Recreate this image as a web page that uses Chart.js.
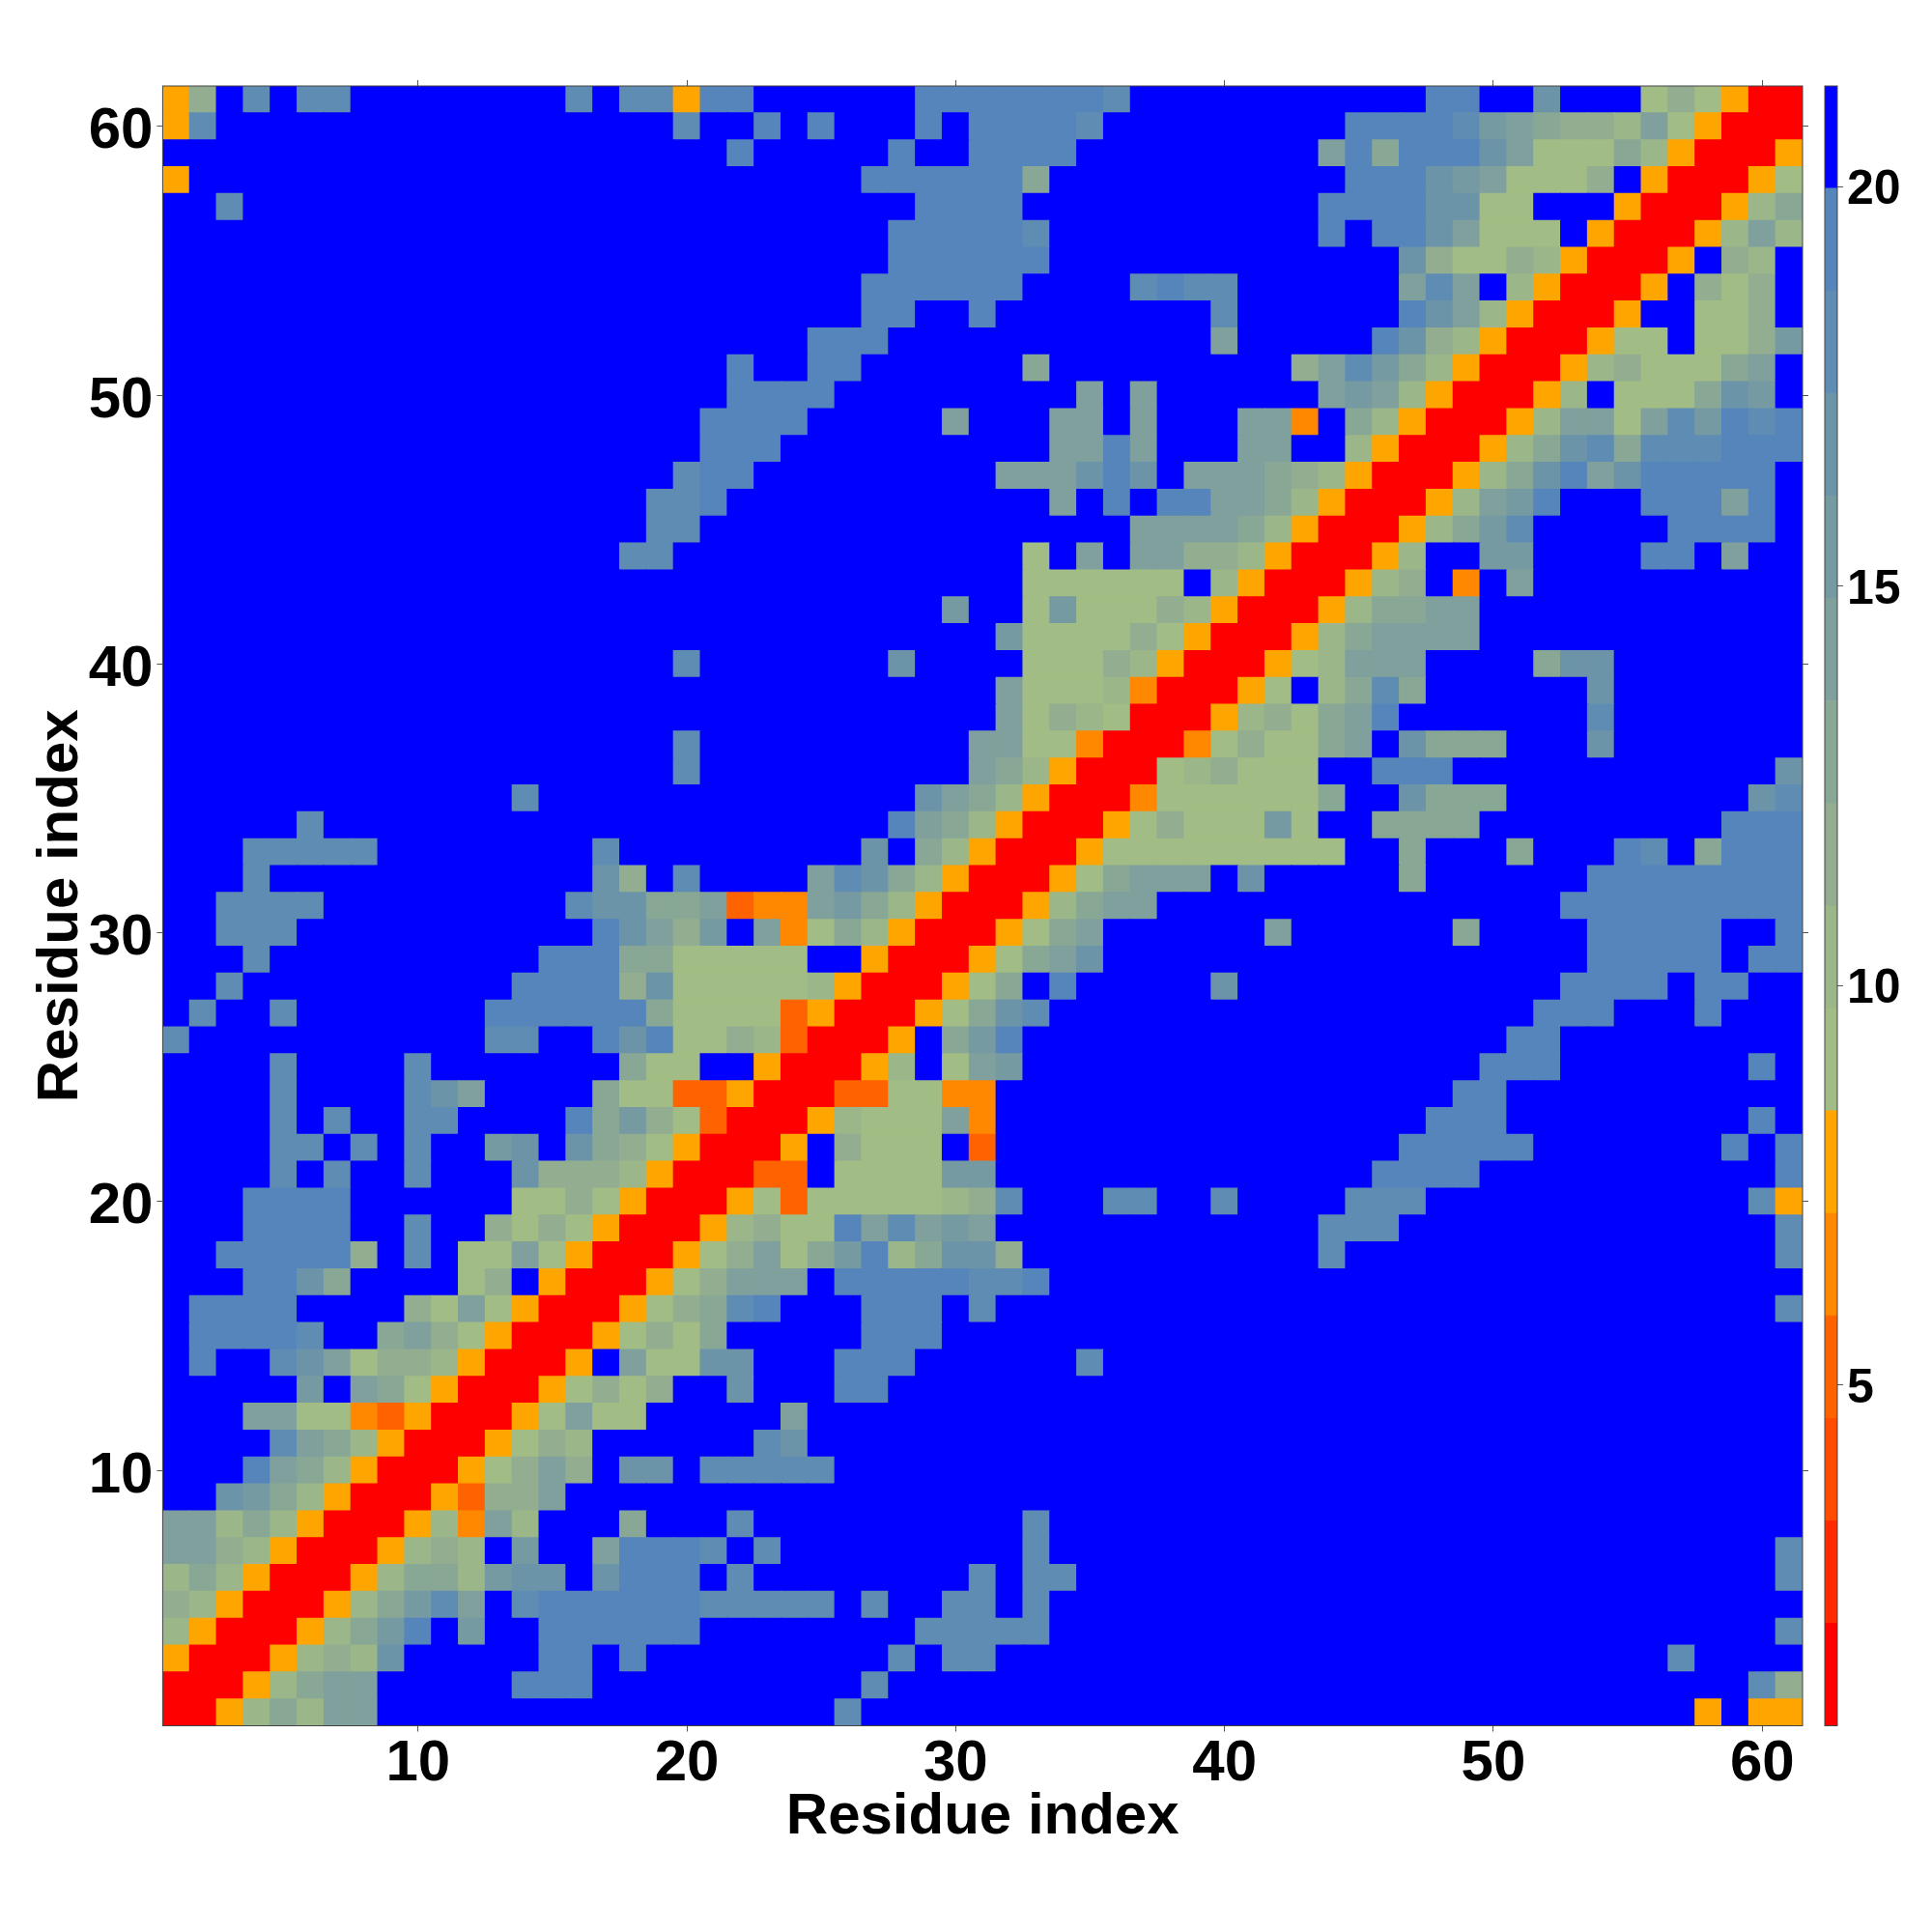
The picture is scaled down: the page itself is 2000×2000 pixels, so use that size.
<!DOCTYPE html>
<html>
<head>
<meta charset="utf-8">
<title>Residue distance map</title>
<script src="https://cdn.jsdelivr.net/npm/chart.js@4/dist/chart.umd.js"></script>
<style>
body { margin: 0; background: #fff; }
canvas { position: absolute; top: 0; }
#map { left: 0; }
#bar { left: 1880px; }
</style>
</head>
<body>
<canvas id="map" width="1880" height="2000"></canvas>
<canvas id="bar" width="120" height="2000"></canvas>
<script>
// one character per cell, hex index into bandColors. first row is residue 61, columns run 1..61
var residueRows = [
'58fdfddffffffffdfdd5 eeffffffeeeeeeedffff fffffffeeffcfff686500',
'5dfffffffffffffffffd ffefefffefeeeedfffff ffffeeeedba9887a65000',
'ffffffffffffffffffff fefffffeffeeeeffffff fffae9eeeca6669750005',
'5fffffffffffffffffff ffffffeeeeee9fffffff ffffeeecba6668f500056',
'ffdfffffffffffffffff ffffffffeeeeffffffff fffeeeecc66fff5000579',
'ffffffffffffffffffff fffffffeeeeedfffffff fffefeeca666f500057a7',
'ffffffffffffffffffff fffffffeeeeeefffffff ffffffc8668750005f87f',
'ffffffffffffffffffff ffffffeeeeeeffffdedd ffffffadaf750005f868f',
'ffffffffffffffffffff ffffffeeffeffffffffd ffffffeca750005ff668f',
'ffffffffffffffffffff ffffeeeffffffffffffa fffffec875000566f668b',
'ffffffffffffffffffff feffeeffffff9fffffff ff8adb9750005786669af',
'ffffffffffffffffffff feeeefffffffffafafff fffaba7500057f6669cbf',
'ffffffffffffffffffff eeeefffffafffaafafff aa4f97500057aa6adbede',
'ffffffffffffffffffff eeeffffffffffaaeafff aaff75000579cd9dddeee',
'fffffffffffffffffffd eefffffffffaaacecfaa a9875000579ceaceeeeef',
'ffffffffffffffffffdd effffffffffffafefeea a97500057abefffeeeaef',
'ffffffffffffffffffdd ffffffffffffffffaaaa 975000579bdfffffeeeef',
'fffffffffffffffffddf ffffffffffff6fafaa88 7500057ffbbffffeefaff',
'ffffffffffffffffffff ffffffffffff666666f7 5000578f4faffffffffff',
'ffffffffffffffffffff fffffffffbff6b666875 0005799aaffffffffffff',
'ffffffffffffffffffff fffffffffffb66668650 00579aaaaffffffffffff',
'fffffffffffffffffffd fffffffcffff66687500 0567aaaffff9ccfffffff',
'ffffffffffffffffffff fffffffffffa66674000 56f79d9ffffffcfffffff',
'ffffffffffffffffffff fffffffffffa68760005 7869aefffffffdfffffff',
'fffffffffffffffffffd ffffffffffaa66400046 8669afc999fffcfffffff',
'fffffffffffffffffffd ffffffffffa975000678 666ffeeeffffffffffffc',
'fffffffffffffdffffff ffffffffca9750004666 6669ffc999fffffffffcd',
'fffffdffffffffffffff fffffffea97500056866 6b6ff9999fffffffffeee',
'fffdddddffffffffdfff ffffffcf975000566666 6666ff9fff9fffedf9eee',
'fffdffffffffffffc8fd ffffadc975000569aaaf cfffff9ffffffeeeeeeee',
'ffddddfffffffffdcc99 a344ab975000579aafff ffffffffffffeeeeeeeee',
'ffdddfffffffffffeca8 bfa46975000569afffff faffffff9ffffeeeeeffe',
'fffdffffffffffeee996 6666ff5000569acfffff fffffffffffffeeeeefee',
'ffdffffffffffeeee8c6 666675000569fefffffc ffffffffffffeeeefeeff',
'fdffdfffffffeeeeee96 66635000569cdfffffff fffffffffffeeefffefff',
'dfffffffffffddffece6 68730005f9beffffffff ffffffffffeefffffffff',
'ffffdffffdfffffff966 ff500057f6abffffffff fffffffffeeefffffffef',
'ffffdffffdcaffff9663 35000336644fffffffff ffffffffeefffffffffff',
'ffffdfdffddffffe9b86 300057666a4fffffffff fffffffeeefffffffffef',
'ffffddfdfdffbcfc9865 0005f8666f3fffffffff ffffffeeeeefffffffefe',
'ffffdfdffdfffc888750 0033f6666bbfffffffff fffffeeeefffffffffffe',
'fffeeeeffffff6686500 05636666678dfffddffd ffffdddffffffffffffd5',
'fffeeeeffdff86865000 57866eadabafffffffff fffdddffffffffffffffd',
'ffeeeee8fdf66a650005 68a69be79cc8ffffffff fffdffffffffffffffffd',
'fffeec9ffff68f500056 8aaafeeeeeddefffffff fffffffffffffffffffff',
'feeeeffff86a65000568 9defffeeefdfffffffff ffffffffffffffffffffd',
'feeeedff9a8650005686 9fffffeeefffffffffff fffffffffffffffffffff',
'feffdca688750005fa66 ccfffeeeffffffdfffff fffffffffffffffffffff',
'fffffbfa96500056868f fcfffeefffffffffffff fffffffffffffffffffff',
'fffaa6643500056a66ff fffaffffffffffffffff fffffffffffffffffffff',
'ffffda9750005687ffff ffdcffffffffffffffff fffffffffffffffffffff',
'fffea975000568a8fccf dddddfffffffffffffff fffffffffffffffffffff',
'ffcb9750005388afffff ffffffffffffffffffff fffffffffffffffffffff',
'aa7975000574a7fff9ff fdffffffffffdfffffff fffffffffffffffffffff',
'aa8750005787fbffaeee dfdfffffffffdfffffff ffffffffffffffffffffd',
'797500057997bccfceee fdffffffffdfddffffff ffffffffffffffffffffd',
'875000579bdafdeeeeee dddddfdffddfdfffffff fffffffffffffffffffff',
'75000579befbffeeeeee ffffffffdddddfffffff ffffffffffffffffffffd',
'50005787cfffffeefeff fffffffdfddfffffffff ffffffffffffffffdffff',
'000579aafffffeeeffff ffffffdfffffffffffff fffffffffffffffffffd8',
'005797aaffffffffffff fffffdffffffffffffff fffffffffffffffff5f55'
];
var tickValues = [10, 20, 30, 40, 50, 60];
var barTicks = [5, 10, 15, 20];
var bandEdges = [0.735, 2.018, 3.3, 4.583, 5.866, 7.149, 8.432, 9.715, 10.998, 12.281, 13.564, 14.847, 16.13, 17.413, 18.696, 19.98, 21.26];
var bandColors = ['#ff0000', '#ff2a00', '#ff4c00', '#ff6200', '#ff8800', '#ffa500', '#a2bc85', '#9bb688', '#92ad8f', '#88a795',
    '#7fa09c', '#769aa2', '#6c94a9', '#5f8cb3', '#5585bb', '#0000ff'];

var cells = [];
residueRows.forEach(function (row, r) {
    row.replace(/ /g, '').split('').forEach(function (c, i) {
        cells.push({ x: i + 1, y: 61 - r, band: parseInt(c, 16) });
    });
});

var fontFamily = '"Liberation Sans", Arial, sans-serif';
var boldFont = { family: fontFamily, weight: 'bold', size: 60 };

// strokes the thin box round the plot
var framePlugin = {
    id: 'frame',
    afterDraw: function (chart) {
        var a = chart.chartArea, ctx = chart.ctx;
        ctx.save();
        ctx.strokeStyle = '#444';
        ctx.lineWidth = 1;
        ctx.strokeRect(a.left, a.top, a.right - a.left, a.bottom - a.top);
        ctx.restore();
    }
};

function residueTicks(scale) {
    scale.ticks = tickValues.map(function (v) { return { value: v }; });
}

// the empty first line pushes a left-axis label down a few pixels, like the reference
function nudgedLabel(value) {
    return ['', String(value)];
}

function residueAxis(position, axis, size, showLabels, title) {
    var isLeft = position === 'left';
    return {
        type: 'linear',
        axis: axis,
        position: position,
        min: 0.5,
        max: 61.5,
        afterBuildTicks: residueTicks,
        afterFit: function (scale) {
            if (axis === 'x') { scale.height = size; } else { scale.width = size; }
        },
        border: { display: false },
        grid: { drawOnChartArea: false, drawTicks: true, tickLength: 6, tickColor: '#555' },
        ticks: {
            display: showLabels,
            color: '#000',
            font: isLeft ? { family: fontFamily, weight: 'bold', size: 60, lineHeight: 0.2 } : boldFont,
            padding: isLeft ? 4 : -2,
            maxRotation: 0,
            autoSkip: false,
            callback: isLeft ? nudgedLabel : undefined
        },
        title: title
    };
}

new Chart(document.getElementById('map').getContext('2d'), {
    type: 'scatter',
    data: {
        datasets: [{
            label: 'distance',
            data: cells,
            pointStyle: 'rect',
            pointBorderWidth: 0,
            // one pixel of overlap so neighbouring cells leave no antialiased seam
            pointRadius: function (ctx) {
                return (ctx.chart.scales.x.width / 61 + 1) * Math.SQRT1_2;
            },
            pointBackgroundColor: function (ctx) {
                return bandColors[ctx.raw.band];
            }
        }]
    },
    options: {
        responsive: false,
        animation: false,
        events: [],
        layout: { padding: 0 },
        plugins: { legend: { display: false }, tooltip: { enabled: false } },
        scales: {
            x: residueAxis('bottom', 'x', 213.5, true, {
                display: true, text: 'Residue index', color: '#000', font: boldFont, padding: { top: 0, bottom: 83 }
            }),
            xTop: residueAxis('top', 'x', 89, false, { display: false }),
            y: residueAxis('left', 'y', 168.4, true, {
                display: true, text: 'Residue index', color: '#000', font: boldFont, padding: { top: 27, bottom: 0 }
            }),
            yRight: residueAxis('right', 'y', 14, false, { display: false })
        }
    },
    plugins: [framePlugin]
});

var barSets = bandColors.map(function (color, i) {
    return {
        label: 'band ' + i,
        data: [[bandEdges[i], bandEdges[i + 1]]],
        backgroundColor: color,
        barPercentage: 1,
        categoryPercentage: 1,
        grouped: false
    };
});

new Chart(document.getElementById('bar').getContext('2d'), {
    type: 'bar',
    data: { labels: [''], datasets: barSets },
    options: {
        responsive: false,
        animation: false,
        events: [],
        layout: { padding: { left: 9, top: 89, bottom: 213.5 } },
        plugins: { legend: { display: false }, tooltip: { enabled: false } },
        scales: {
            x: { display: false },
            y: {
                position: 'right',
                min: bandEdges[0],
                max: bandEdges[16],
                afterBuildTicks: function (scale) {
                    scale.ticks = barTicks.map(function (v) { return { value: v }; });
                },
                afterFit: function (scale) { scale.width = 98; },
                border: { display: false },
                grid: { drawOnChartArea: false, tickLength: 6, tickColor: '#555' },
                ticks: {
                    color: '#000',
                    font: { family: fontFamily, weight: 'bold', size: 50, lineHeight: 0.16 },
                    padding: 4,
                    callback: nudgedLabel
                }
            }
        }
    },
    plugins: [framePlugin]
});
</script>
</body>
</html>
